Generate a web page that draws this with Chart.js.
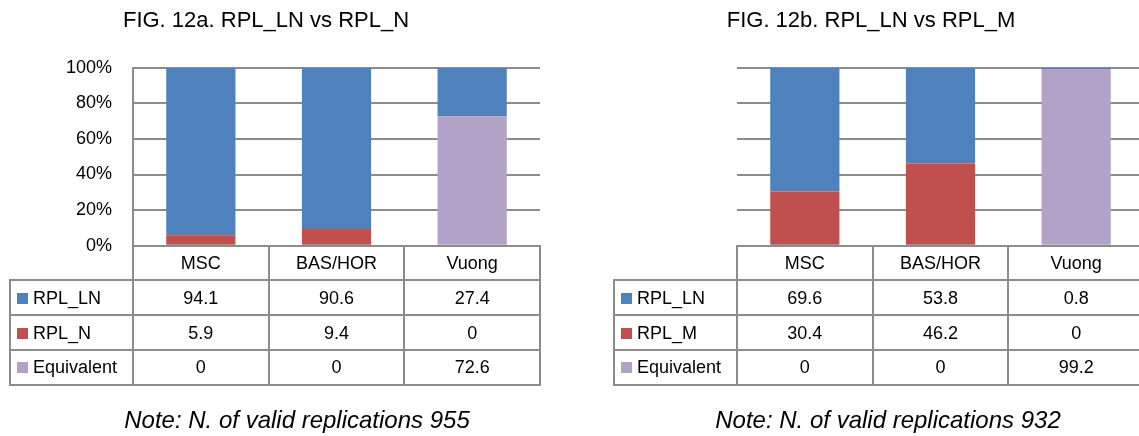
<!DOCTYPE html>
<html>
<head>
<meta charset="utf-8">
<script src="https://cdn.jsdelivr.net/npm/chart.js@4/dist/chart.umd.min.js"></script>
<style>
  html, body { margin: 0; padding: 0; overflow: hidden; background: #ffffff; width: 1139px; height: 436px; }
  .panel { position: absolute; top: 0; width: 560px; height: 436px; }
  .ttl, .note { position: absolute; font-family: "Liberation Sans", Arial, sans-serif; color: #000; white-space: nowrap; transform: translate(-50%, -50%); line-height: 1; }
  .ttl { font-size: 22px; }
  .note { font-size: 24px; font-style: italic; }
</style>
</head>
<body>
<div class="panel" style="left:0px"><canvas id="c1" width="560" height="436"></canvas></div>
<div class="panel" style="left:604px"><canvas id="c2" width="560" height="436"></canvas></div>
<div class="ttl" style="left:266px; top:20px;">FIG. 12a. RPL_LN vs RPL_N</div>
<div class="ttl" style="left:871px; top:20px;">FIG. 12b. RPL_LN vs RPL_M</div>
<div class="note" style="left:297px; top:420px;">Note: N. of valid replications 955</div>
<div class="note" style="left:888px; top:420px;">Note: N. of valid replications 932</div>
<script>
// ---- data ----
const categories = ['MSC', 'BAS/HOR', 'Vuong'];
const yTickValues = [0, 20, 40, 60, 80, 100];
const yTickLabels = ['0%', '20%', '40%', '60%', '80%', '100%'];

// Fig 12a
const seriesA = ['RPL_LN', 'RPL_N', 'Equivalent'];
const a_rplLN = [94.1, 90.6, 27.4];
const a_rplN = [5.9, 9.4, 0];
const a_equiv = [0, 0, 72.6];

// Fig 12b
const seriesB = ['RPL_LN', 'RPL_M', 'Equivalent'];
const b_rplLN = [69.6, 53.8, 0.8];
const b_rplM = [30.4, 46.2, 0];
const b_equiv = [0, 0, 99.2];

// ---- styles ----
const BLUE = '#4F81BD', RED = '#C0504D', PURPLE = '#B3A2C7';
const GRID = '#8c8c8c';
const FONT = '"Liberation Sans", Arial, sans-serif';

const tablePlugin = {
  id: 'dataTable',
  afterDraw(chart, args, opts) {
    const ctx = chart.ctx, area = chart.chartArea, xs = chart.scales.x;
    const n = chart.data.labels.length;
    const cw = (area.right - area.left) / n;
    const top = area.bottom, rowH = opts.rowHeight, left = opts.left;
    const rows = opts.rows;
    const bottom = top + rowH * (rows.length + 1);
    const R = v => Math.round(v);
    ctx.save();
    ctx.strokeStyle = GRID;
    ctx.lineWidth = 2;
    const line = (x1, y1, x2, y2) => { ctx.beginPath(); ctx.moveTo(R(x1), R(y1)); ctx.lineTo(R(x2), R(y2)); ctx.stroke(); };
    line(area.left - 1, top, area.right + 1, top);
    for (let r = 1; r <= rows.length + 1; r++) {
      const y = top + r * rowH;
      line(left - 1, y, area.right + 1, y);
    }
    line(left, top + rowH - 1, left, bottom + 1);
    for (let i = 0; i <= n; i++) {
      const x = (i < n ? xs.getPixelForValue(i) - cw / 2 : xs.getPixelForValue(n - 1) + cw / 2);
      line(x, top - 1, x, bottom + 1);
    }
    ctx.fillStyle = '#000';
    ctx.font = opts.fontSize + 'px ' + FONT;
    ctx.textBaseline = 'middle';
    ctx.textAlign = 'center';
    chart.data.labels.forEach((lab, i) => {
      ctx.fillText(lab, xs.getPixelForValue(i), top + rowH / 2 + 1);
    });
    rows.forEach((row, r) => {
      const yc = top + rowH * (r + 1) + rowH / 2 + 1;
      ctx.fillStyle = row.color;
      ctx.fillRect(left + 7, R(yc - 6), 11, 11);
      ctx.fillStyle = '#000';
      ctx.textAlign = 'left';
      ctx.fillText(row.label, left + 23, yc);
      ctx.textAlign = 'center';
      row.values.forEach((v, i) => ctx.fillText(String(v), xs.getPixelForValue(i), yc));
    });
    ctx.restore();
  }
};

function makeChart(id, names, ln, other, equiv, showY) {
  return new Chart(document.getElementById(id), {
    type: 'bar',
    data: {
      labels: categories,
      datasets: [
        { label: names[1], data: other, backgroundColor: RED, borderWidth: 0 },
        { label: names[2], data: equiv, backgroundColor: PURPLE, borderWidth: 0 },
        { label: names[0], data: ln, backgroundColor: BLUE, borderWidth: 0 }
      ]
    },
    options: {
      responsive: false,
      animation: false,
      events: [],
      datasets: { bar: { barPercentage: 0.51, categoryPercentage: 1.0 } },
      layout: { padding: { left: 0, top: 67.7, right: 20, bottom: 190.3 } },
      plugins: {
        legend: { display: false },
        tooltip: { enabled: false },
        title: { display: false },
        dataTable: {
          rowHeight: 34.75,
          left: 10,
          fontSize: 18,
          rows: [
            { label: names[0], color: BLUE, values: ln },
            { label: names[1], color: RED, values: other },
            { label: names[2], color: PURPLE, values: equiv }
          ]
        }
      },
      scales: {
        x: { stacked: true, display: false },
        y: {
          stacked: true, min: 0, max: 100,
          afterBuildTicks(s) { s.ticks = yTickValues.map(v => ({ value: v })); },
          afterFit(s) { s.width = 133; },
          ticks: {
            display: showY,
            padding: 21,
            color: '#000',
            font: { family: FONT, size: 18 },
            callback: (v) => yTickLabels[yTickValues.indexOf(v)]
          },
          grid: { color: GRID, lineWidth: 2, drawTicks: false },
          border: { display: showY, color: GRID, width: 2 }
        }
      }
    },
    plugins: [tablePlugin]
  });
}

makeChart('c1', seriesA, a_rplLN, a_rplN, a_equiv, true);
makeChart('c2', seriesB, b_rplLN, b_rplM, b_equiv, false);
</script>
</body>
</html>
